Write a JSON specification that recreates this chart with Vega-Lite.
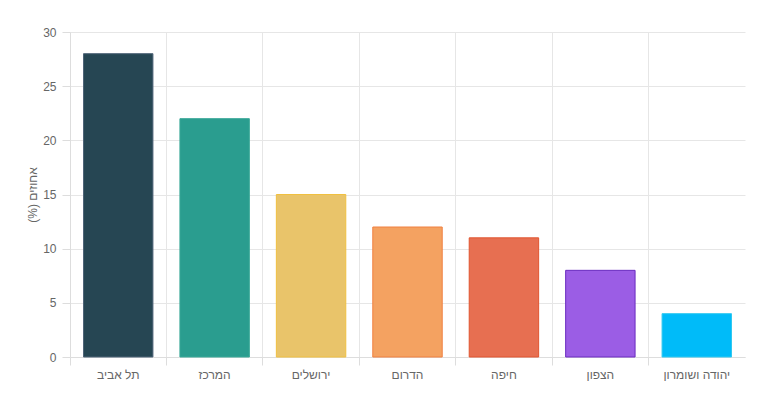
{
  "$schema": "https://vega.github.io/schema/vega-lite/v6.json",
  "autosize": "none",
  "width": 675,
  "height": 325,
  "padding": {"left": 70, "top": 32, "right": 15, "bottom": 36},
  "background": "white",
  "data": {
    "values": [
      {"region": "תל אביב", "pct": 28},
      {"region": "המרכז", "pct": 22},
      {"region": "ירושלים", "pct": 15},
      {"region": "הדרום", "pct": 12},
      {"region": "חיפה", "pct": 11},
      {"region": "הצפון", "pct": 8},
      {"region": "יהודה ושומרון", "pct": 4}
    ]
  },
  "config": {
    "view": {"stroke": null},
    "font": "Liberation Sans",
    "axis": {
      "labelColor": "#666666",
      "titleColor": "#666666",
      "labelFontSize": 12,
      "labelFont": "Liberation Sans",
      "titleFont": "Liberation Sans",
      "titleFontWeight": "normal",
      "domainColor": "#dddddd",
      "tickColor": "#dddddd",
      "gridColor": "#e6e6e6",
      "tickSize": 8
    }
  },
  "mark": {"type": "bar", "width": {"band": 0.72}, "strokeWidth": 1},
  "encoding": {
    "x": {
      "field": "region",
      "type": "nominal",
      "sort": null,
      "scale": {"paddingInner": 0, "paddingOuter": 0},
      "axis": {
        "title": null,
        "labelAngle": 0,
        "bandPosition": 0,
        "grid": true,
        "labelPadding": 4,
        "labelAlign": "center"
      }
    },
    "y": {
      "field": "pct",
      "type": "quantitative",
      "scale": {"domain": [0, 30], "nice": false},
      "axis": {
        "title": "\u202Bאחוזים (%)\u202C",
        "titleFontSize": 12,
        "titlePadding": 3,
        "values": [0, 5, 10, 15, 20, 25, 30],
        "labelPadding": 6
      }
    },
    "color": {
      "field": "region",
      "type": "nominal",
      "sort": null,
      "legend": null,
      "scale": {
        "domain": ["תל אביב", "המרכז", "ירושלים", "הדרום", "חיפה", "הצפון", "יהודה ושומרון"],
        "range": ["#264653", "#2a9d8f", "#e9c46a", "#f4a261", "#e76f51", "#9b5de5", "#00bbf9"]
      }
    },
    "stroke": {
      "field": "region",
      "type": "nominal",
      "sort": null,
      "legend": null,
      "scale": {
        "domain": ["תל אביב", "המרכז", "ירושלים", "הדרום", "חיפה", "הצפון", "יהודה ושומרון"],
        "range": ["#4f6478", "#3aa898", "#f0c040", "#f08040", "#e05530", "#6a2cc0", "#30c8f0"]
      }
    }
  }
}
